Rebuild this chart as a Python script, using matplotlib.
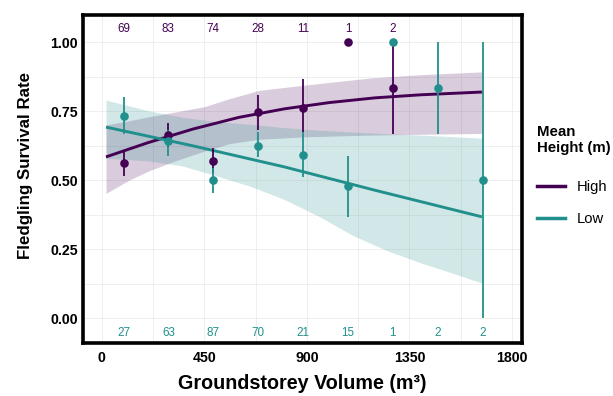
import matplotlib
matplotlib.use('Agg')
import matplotlib.pyplot as plt
from matplotlib.lines import Line2D
from matplotlib.ticker import MultipleLocator

plt.rcParams['font.family'] = ['Liberation Sans', 'DejaVu Sans']

PURPLE = '#440154'
TEAL = '#21908C'

# ---- binned observations ----
bin_x = [95, 292, 489, 686, 883, 1080, 1277, 1474, 1671]

high_mean = [0.563, 0.665, 0.569, 0.745, 0.762, 1.000, 0.834]
high_lo   = [0.514, 0.620, 0.525, 0.681, 0.675, 1.000, 0.667]
high_hi   = [0.603, 0.708, 0.617, 0.810, 0.865, 1.000, 1.000]
high_n    = [69, 83, 74, 28, 11, 1, 2]

low_mean = [0.732, 0.641, 0.500, 0.623, 0.591, 0.478, 1.000, 0.834, 0.500]
low_lo   = [0.667, 0.587, 0.455, 0.584, 0.512, 0.367, 1.000, 0.667, 0.000]
low_hi   = [0.800, 0.680, 0.545, 0.675, 0.675, 0.588, 1.000, 1.000, 1.000]
low_n    = [27, 63, 87, 70, 21, 15, 1, 2, 2]

# ---- fitted curves ----
high_fit_x = [18, 200, 400, 600, 800, 1000, 1200, 1400, 1668]
high_fit   = [0.584, 0.635, 0.685, 0.727, 0.758, 0.781, 0.798, 0.809, 0.819]
high_band_x  = [18, 120, 210, 330, 450, 560, 690, 900, 1180, 1400, 1668]
high_band_lo = [0.452, 0.500, 0.535, 0.572, 0.605, 0.632, 0.648, 0.657, 0.663, 0.666, 0.669]
high_band_hi = [0.700, 0.715, 0.730, 0.748, 0.766, 0.795, 0.825, 0.845, 0.870, 0.882, 0.892]

low_fit_x = [18, 400, 800, 1200, 1668]
low_fit   = [0.692, 0.624, 0.548, 0.463, 0.367]
low_band_x  = [18, 200, 350, 500, 650, 800, 950, 1100, 1250, 1400, 1550, 1668]
low_band_lo = [0.579, 0.570, 0.552, 0.516, 0.478, 0.430, 0.370, 0.300, 0.245, 0.200, 0.160, 0.127]
low_band_hi = [0.790, 0.752, 0.728, 0.712, 0.702, 0.690, 0.681, 0.674, 0.668, 0.663, 0.657, 0.652]

x_ticks = [0, 450, 900, 1350, 1800]
y_ticks = [0.00, 0.25, 0.50, 0.75, 1.00]

fig = plt.figure(figsize=(6.13, 3.96), dpi=100)
ax = fig.add_axes([83/613, 1-343/396, (522-83)/613, (343-15)/396])

ax.set_xlim(-83, 1844)
ax.set_ylim(-0.09, 1.098)

ax.xaxis.set_minor_locator(MultipleLocator(225))
ax.yaxis.set_minor_locator(MultipleLocator(0.125))
ax.set_xticks(x_ticks)
ax.set_yticks(y_ticks)
ax.set_xticklabels([str(v) for v in x_ticks])
ax.set_yticklabels([f'{v:.2f}' for v in y_ticks])
ax.grid(which='both', color='#EDEDED', lw=0.6, zorder=0)
ax.set_axisbelow(True)
ax.tick_params(which='both', length=0)
ax.tick_params(axis='x', pad=6)
ax.tick_params(axis='y', pad=3.5)
for lab in ax.get_xticklabels() + ax.get_yticklabels():
    lab.set_fontweight('bold')
    lab.set_fontsize(10.2)
    lab.set_color('black')

for s in ax.spines.values():
    s.set_linewidth(2.6)
    s.set_color('black')
    s.set_zorder(10)

# ribbons
ax.fill_between(high_band_x, high_band_lo, high_band_hi, color=PURPLE, alpha=0.2, lw=0, zorder=1)
ax.fill_between(low_band_x, low_band_lo, low_band_hi, color=TEAL, alpha=0.2, lw=0, zorder=1)

# fitted lines
ax.plot(high_fit_x, high_fit, color=PURPLE, lw=2.1, zorder=3, solid_capstyle='butt')
ax.plot(low_fit_x, low_fit, color=TEAL, lw=2.1, zorder=3, solid_capstyle='butt')

# error bars + points
def draw_group(xs, mean, lo, hi, color):
    yerr = [[m - l for m, l in zip(mean, lo)], [h - m for m, h in zip(mean, hi)]]
    ax.errorbar(xs, mean, yerr=yerr, fmt='o', color=color, ms=6.2, elinewidth=1.3,
                capsize=0, zorder=4, mew=0)

draw_group(bin_x[:len(high_mean)], high_mean, high_lo, high_hi, PURPLE)
draw_group(bin_x[:len(low_mean)], low_mean, low_lo, low_hi, TEAL)

# counts
for x, n in zip(bin_x, high_n):
    ax.text(x, 1.047, str(n), ha='center', va='center', color=PURPLE, fontsize=8.4, zorder=5)
for x, n in zip(bin_x, low_n):
    ax.text(x, -0.053, str(n), ha='center', va='center', color=TEAL, fontsize=8.4, zorder=5)

ax.set_xlabel('Groundstorey Volume (m\u00b3)', fontsize=14.2, fontweight='bold', labelpad=6)
ax.set_ylabel('Fledgling Survival Rate', fontsize=12.2, fontweight='bold', labelpad=6)
ax.yaxis.set_label_coords(-0.115, 0.54)

handles = [Line2D([], [], color=PURPLE, lw=2.5), Line2D([], [], color=TEAL, lw=2.5)]
leg = ax.legend(handles, ['High', 'Low'], title='Mean\nHeight (m)', loc='upper left',
                bbox_to_anchor=(1.034, 0.665), frameon=False, handlelength=1.9,
                fontsize=10.6, title_fontproperties={'weight': 'bold', 'size': 10.8},
                labelspacing=1.25, borderpad=0, borderaxespad=0, alignment='left',
                handletextpad=0.8)
leg._legend_box.sep = 18

fig.savefig('out.png', dpi=100)
